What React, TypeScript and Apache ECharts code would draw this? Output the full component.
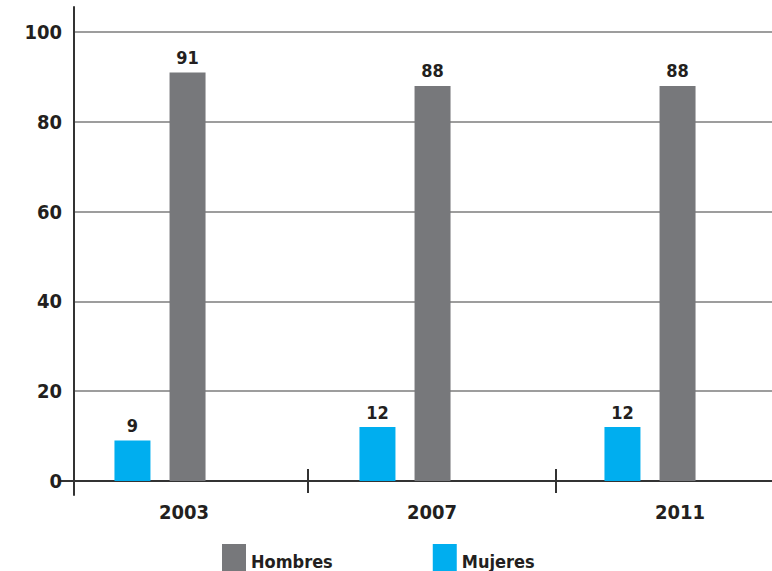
import React, { useEffect, useRef } from "react";
import * as echarts from "echarts";

const years = ["2003", "2007", "2011"];
const hombres = [91, 88, 88];
const mujeres = [9, 12, 12];
const yTicks = { min: 0, max: 100, interval: 20 };

const FONT = "'Liberation Sans Narrow', 'DejaVu Sans Condensed', 'DejaVu Sans', sans-serif";
const TXT = "#231f20";

export default function App() {
  const ref = useRef<HTMLDivElement>(null);
  useEffect(() => {
    if (!ref.current) return;
    const chart = echarts.init(ref.current, undefined, { renderer: "svg" });
    const labelStyle = { fontFamily: FONT, fontWeight: "bold" as const, fontSize: 18, color: TXT };
    chart.setOption({
      animation: false,
      backgroundColor: "#ffffff",
      grid: [
        { left: 74, right: 0, top: 32, bottom: 90, outerBoundsMode: "none" },
        { left: 37.5, width: 735, top: 32, bottom: 90, outerBoundsMode: "none" },
        { left: 74, right: 0, top: 7, bottom: 76, outerBoundsMode: "none" },
        { left: 60, width: 744, top: 32, bottom: 90, outerBoundsMode: "none" },
      ],
      legend: {
        data: ["Hombres", "Mujeres"],
        left: 217,
        top: 539,
        icon: "rect",
        itemWidth: 24,
        itemHeight: 34,
        itemGap: 100,
        textStyle: { ...labelStyle, fontSize: 18 },
      },
      xAxis: [
        { gridIndex: 0, type: "category", data: years, show: false },
        { gridIndex: 1, type: "category", data: years, show: false },
        { gridIndex: 2, type: "category", data: years, show: false },
        {
          gridIndex: 3,
          type: "category",
          data: years,
          axisLine: { show: true, lineStyle: { color: "#333333", width: 2 } },
          axisTick: {
            show: true,
            inside: false,
            length: 12,
            interval: (idx: number) => idx !== 0,
            lineStyle: { color: "#333333", width: 2 },
          },
          axisLabel: { ...labelStyle, fontSize: 20, margin: 21 },
        },
        {
          gridIndex: 3,
          type: "category",
          data: years,
          position: "bottom",
          axisLine: { show: false },
          axisTick: {
            show: true,
            inside: true,
            length: 12,
            interval: (idx: number) => idx !== 0,
            lineStyle: { color: "#333333", width: 2 },
          },
          axisLabel: { show: false },
        },
      ],
      yAxis: [
        {
          gridIndex: 0,
          type: "value",
          min: yTicks.min,
          max: yTicks.max,
          interval: yTicks.interval,
          axisLine: { show: false },
          axisTick: { show: false },
          axisLabel: { ...labelStyle, fontSize: 20, margin: 12 },
          splitLine: { show: true, lineStyle: { color: "#9d9d9d", width: 2 } },
        },
        { gridIndex: 1, type: "value", min: yTicks.min, max: yTicks.max, show: false },
        {
          gridIndex: 2,
          type: "value",
          min: 0,
          max: 1,
          axisLine: { show: true, lineStyle: { color: "#333333", width: 2 } },
          axisTick: { show: false },
          axisLabel: { show: false },
          splitLine: { show: false },
        },
        { gridIndex: 3, type: "value", min: yTicks.min, max: yTicks.max, show: false },
      ],
      series: [
        {
          name: "Mujeres",
          type: "bar",
          xAxisIndex: 1,
          yAxisIndex: 1,
          data: mujeres,
          barWidth: 36,
          barGap: "53%",
          itemStyle: { color: "#00aeef" },
          label: { show: true, position: "top", distance: 6, ...labelStyle },
        },
        {
          name: "Hombres",
          type: "bar",
          xAxisIndex: 1,
          yAxisIndex: 1,
          data: hombres,
          barWidth: 36,
          barGap: "53%",
          itemStyle: { color: "#77787b" },
          label: { show: true, position: "top", distance: 6, ...labelStyle },
        },
      ],
    });
    return () => chart.dispose();
  }, []);
  return (
    <div
      ref={ref}
      style={{ position: "fixed", left: 0, top: 0, width: 772, height: 571 }}
    />
  );
}
